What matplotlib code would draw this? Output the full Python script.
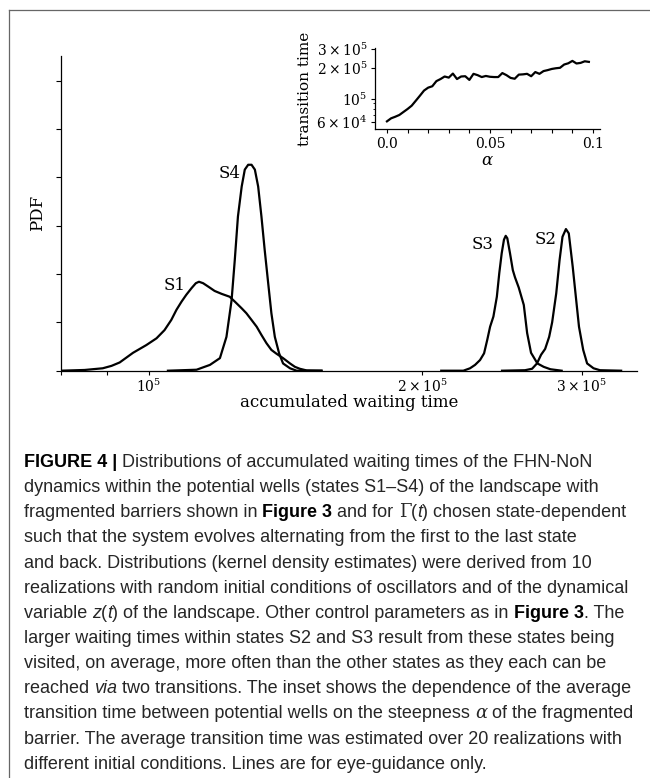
import numpy as np
import matplotlib
matplotlib.use('Agg')
import matplotlib.pyplot as plt
from matplotlib.ticker import FixedLocator, FixedFormatter, NullFormatter
from matplotlib.lines import Line2D

# KDE curves (x = accumulated waiting time, y = PDF in tick units)
s1_x = [8.0e4, 8.5e4, 8.9e4, 9.1e4, 9.29e4, 9.61e4, 9.94e4, 1.020e5, 1.041e5, 1.059e5,
        1.073e5, 1.087e5, 1.100e5, 1.115e5, 1.127e5, 1.136e5, 1.148e5, 1.163e5, 1.182e5,
        1.203e5, 1.228e5, 1.244e5, 1.266e5, 1.281e5, 1.298e5, 1.315e5, 1.331e5, 1.348e5,
        1.365e5, 1.383e5, 1.406e5, 1.431e5, 1.449e5, 1.467e5, 1.493e5, 1.55e5]
s1_y = [0.0, 0.015, 0.05, 0.10, 0.17, 0.37, 0.53, 0.67, 0.84, 1.05,
        1.26, 1.43, 1.57, 1.71, 1.81, 1.84, 1.81, 1.74, 1.65,
        1.59, 1.53, 1.43, 1.29, 1.19, 1.05, 0.91, 0.74, 0.57,
        0.43, 0.35, 0.26, 0.15, 0.08, 0.04, 0.005, 0.0]

s4_x = [1.05e5, 1.129e5, 1.168e5, 1.198e5, 1.218e5, 1.234e5, 1.244e5, 1.254e5, 1.266e5,
        1.276e5, 1.287e5, 1.298e5, 1.309e5, 1.320e5, 1.331e5, 1.342e5, 1.354e5, 1.365e5,
        1.377e5, 1.392e5, 1.406e5, 1.431e5, 1.455e5, 1.55e5]
s4_y = [0.0, 0.02, 0.12, 0.26, 0.70, 1.46, 2.29, 3.19, 3.81,
        4.16, 4.26, 4.26, 4.16, 3.81, 3.19, 2.50, 1.81, 1.19,
        0.70, 0.36, 0.15, 0.05, 0.0, 0.0]

s3_x = [2.10e5, 2.221e5, 2.259e5, 2.288e5, 2.317e5, 2.341e5, 2.360e5, 2.377e5, 2.397e5,
        2.418e5, 2.433e5, 2.448e5, 2.462e5, 2.473e5, 2.483e5, 2.500e5, 2.518e5, 2.532e5,
        2.556e5, 2.589e5, 2.611e5, 2.637e5, 2.680e5, 2.723e5, 2.77e5, 2.85e5]
s3_y = [0.0, 0.0, 0.05, 0.12, 0.22, 0.36, 0.64, 0.91, 1.12,
        1.53, 2.02, 2.43, 2.71, 2.79, 2.74, 2.43, 2.08, 1.93,
        1.72, 1.36, 0.78, 0.37, 0.15, 0.08, 0.03, 0.0]

s2_x = [2.45e5, 2.597e5, 2.644e5, 2.677e5, 2.705e5, 2.733e5, 2.761e5, 2.782e5, 2.811e5,
        2.835e5, 2.856e5, 2.881e5, 2.902e5, 2.931e5, 2.957e5, 2.978e5, 3.010e5, 3.040e5,
        3.090e5, 3.141e5, 3.314e5]
s2_y = [0.0, 0.01, 0.04, 0.15, 0.33, 0.45, 0.70, 1.00, 1.60,
        2.29, 2.77, 2.93, 2.84, 2.15, 1.46, 0.91, 0.43, 0.15,
        0.05, 0.01, 0.0]

state_names = ['S1', 'S2', 'S3', 'S4']

# inset: average transition time vs steepness alpha
alpha = [0.000, 0.002, 0.004, 0.006, 0.008, 0.010, 0.012, 0.014, 0.016, 0.018,
         0.020, 0.022, 0.024, 0.026, 0.028, 0.030, 0.032, 0.034, 0.036, 0.038,
         0.040, 0.042, 0.044, 0.046, 0.048, 0.050, 0.052, 0.054, 0.056, 0.058,
         0.060, 0.062, 0.064, 0.066, 0.068, 0.070, 0.072, 0.074, 0.076, 0.078,
         0.080, 0.082, 0.084, 0.086, 0.088, 0.090, 0.092, 0.094, 0.096, 0.098]
trans_time = [60.5e3, 64.7e3, 67.0e3, 69.7e3, 74.5e3, 79.6e3, 85.7e3, 95.7e3, 107e3, 120e3,
              128e3, 132e3, 148e3, 155e3, 164e3, 160e3, 175e3, 155e3, 164e3, 165e3,
              152e3, 174e3, 169e3, 162e3, 166e3, 163e3, 162e3, 162e3, 177e3, 169e3,
              159e3, 156e3, 171e3, 172e3, 174e3, 165e3, 181e3, 174e3, 185e3, 189e3,
              194e3, 197e3, 199e3, 214e3, 220e3, 232e3, 219e3, 222e3, 230e3, 227e3]

main_xticks = [1e5, 2e5, 3e5]
main_xticklabels = [r'$10^5$', r'$2\times10^5$', r'$3\times10^5$']
inset_yticks = [6e4, 1e5, 2e5, 3e5]
inset_yticklabels = [r'$6\times10^4$', r'$10^5$', r'$2\times10^5$', r'$3\times10^5$']
inset_xticks = [0.0, 0.01, 0.02, 0.03, 0.04, 0.05, 0.06, 0.07, 0.08, 0.09, 0.1]
inset_xticklabels = ['0.0', '', '', '', '', '0.05', '', '', '', '', '0.1']

plt.rcParams['font.family'] = 'DejaVu Serif'
plt.rcParams['mathtext.fontset'] = 'dejavuserif'

W, H = 650, 778
fig = plt.figure(figsize=(W / 100, H / 100), dpi=100)

# ---- main panel
ax = fig.add_axes([60.7 / W, 1 - 370.7 / H, (637 - 60.7) / W, (370.7 - 56) / H])
for xs, ys in [(s1_x, s1_y), (s2_x, s2_y), (s3_x, s3_y), (s4_x, s4_y)]:
    ax.plot(xs, ys, color='black', lw=1.6, solid_joinstyle='round')
ax.set_xscale('log')
ax.set_xlim(8e4, 3.45e5)
ax.set_ylim(0, 6.51)
ax.xaxis.set_major_locator(FixedLocator(main_xticks))
ax.xaxis.set_major_formatter(FixedFormatter(main_xticklabels))
ax.xaxis.set_minor_locator(FixedLocator([8e4, 9e4]))
ax.xaxis.set_minor_formatter(NullFormatter())
ax.set_yticks([0, 1, 2, 3, 4, 5, 6])
ax.set_yticklabels([])
for s in ['top', 'right']:
    ax.spines[s].set_visible(False)
for s in ['left', 'bottom']:
    ax.spines[s].set_linewidth(0.9)
ax.tick_params(axis='x', which='both', direction='out', length=2.6, width=0.8, labelsize=10, pad=2.5)
ax.tick_params(axis='y', direction='out', length=3.4, width=0.8)
ax.set_xlabel('accumulated waiting time', fontsize=12, labelpad=-1)
ax.set_ylabel('PDF', fontsize=12, labelpad=4)

label_pos = {'S1': (1.068e5, 1.77), 'S2': (2.737e5, 2.71), 'S3': (2.335e5, 2.62), 'S4': (1.228e5, 4.07)}
for name in state_names:
    lx, ly = label_pos[name]
    ax.text(lx, ly, name, fontsize=12, ha='center', va='center')

# ---- inset
ins = fig.add_axes([375 / W, 1 - 129.3 / H, 225 / W, 81 / H])
ins.plot(alpha, trans_time, color='black', lw=1.6)
ins.set_yscale('log')
ins.set_xlim(-0.0058, 0.1034)
ins.set_ylim(5.07e4, 3.07e5)
ins.yaxis.set_major_locator(FixedLocator(inset_yticks))
ins.yaxis.set_major_formatter(FixedFormatter(inset_yticklabels))
ins.yaxis.set_minor_locator(FixedLocator([7e4, 8e4, 9e4]))
ins.yaxis.set_minor_formatter(NullFormatter())
ins.xaxis.set_major_locator(FixedLocator(inset_xticks))
ins.xaxis.set_major_formatter(FixedFormatter(inset_xticklabels))
for s in ['top', 'right']:
    ins.spines[s].set_visible(False)
for s in ['left', 'bottom']:
    ins.spines[s].set_linewidth(0.9)
ins.tick_params(axis='both', which='major', direction='out', length=2.8, width=0.8, labelsize=10, pad=2.5)
ins.tick_params(axis='y', which='minor', direction='out', length=1.6, width=0.6)
ins.set_xlabel(r'$\alpha$', fontsize=12, labelpad=1)
ins.set_ylabel('transition time', fontsize=11, labelpad=3)

# ---- frame lines of the figure box
fig.add_artist(Line2D([8.5 / W, 8.5 / W], [0, 1 - 10 / H], transform=fig.transFigure, color='#666666', lw=0.9))
fig.add_artist(Line2D([8.5 / W, 1], [1 - 10 / H, 1 - 10 / H], transform=fig.transFigure, color='#666666', lw=0.9))

# ---- caption
cap_color = '#262626'
N = {'color': cap_color}
B = {'color': 'black', 'fontweight': 'bold'}
I = {'color': cap_color, 'fontstyle': 'italic'}
G = {'color': cap_color, 'family': 'DejaVu Serif'}
A = {'color': cap_color, 'family': 'DejaVu Serif', 'fontstyle': 'italic'}

caption = [
    [('FIGURE 4 |', B), (' Distributions of accumulated waiting times of the FHN-NoN', N)],
    [('dynamics within the potential wells (states S1\u2013S4) of the landscape with', N)],
    [('fragmented barriers shown in ', N), ('Figure 3', B), (' and for ', N), ('\u0393', G),
     ('(', N), ('t', I), (') chosen state-dependent', N)],
    [('such that the system evolves alternating from the first to the last state', N)],
    [('and back. Distributions (kernel density estimates) were derived from 10', N)],
    [('realizations with random initial conditions of oscillators and of the dynamical', N)],
    [('variable ', N), ('z', I), ('(', N), ('t', I), (') of the landscape. Other control parameters as in ', N),
     ('Figure 3', B), ('. The', N)],
    [('larger waiting times within states S2 and S3 result from these states being', N)],
    [('visited, on average, more often than the other states as they each can be', N)],
    [('reached ', N), ('via', I), (' two transitions. The inset shows the dependence of the average', N)],
    [('transition time between potential wells on the steepness ', N), ('\u03b1', A), (' of the fragmented', N)],
    [('barrier. The average transition time was estimated over 20 realizations with', N)],
    [('different initial conditions. Lines are for eye-guidance only.', N)],
]

renderer = fig.canvas.get_renderer()
cap_family = ['Liberation Sans', 'DejaVu Sans']


def draw_runs(runs, x0, y, size):
    x = x0
    arts = []
    for text, kw in runs:
        kw = dict(kw)
        fam = kw.pop('family', cap_family)
        t = fig.text(x / W, 1 - y / H, text, fontsize=size, ha='left', va='baseline', family=fam, **kw)
        arts.append(t)
        x += t.get_window_extent(renderer).width
    return x, arts


# fit font size so the widest line spans the caption width
base = 11.0
end, tmp = draw_runs(caption[5], 24, 500, base)
for t in tmp:
    t.remove()
size = base * (627 - 24) / (end - 24)

for i, runs in enumerate(caption):
    draw_runs(runs, 24, 467 + i * 25.15, size)

fig.savefig('out.png', dpi=100)
